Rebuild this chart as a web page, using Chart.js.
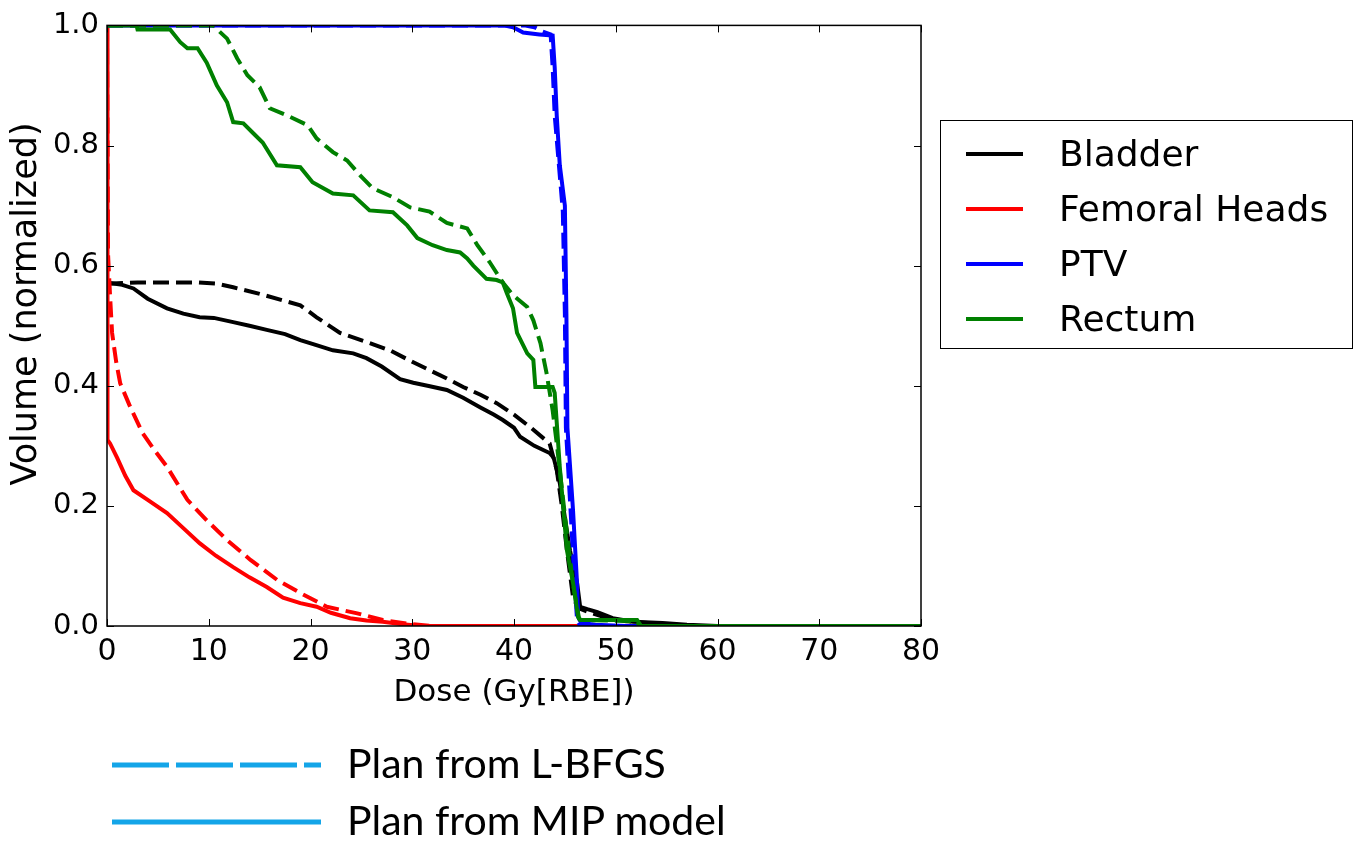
<!DOCTYPE html>
<html>
<head>
<meta charset="utf-8">
<script src="https://cdn.jsdelivr.net/npm/chart.js@4.4.0/dist/chart.umd.min.js"></script>
<style>
body{margin:0;background:#fff;}
#wrap{position:relative;width:1363px;height:842px;}
#dvh{position:absolute;left:0;top:0;}
#legend{position:absolute;left:940px;top:120px;width:411px;height:227px;border:1.5px solid #000;font-family:"DejaVu Sans";font-size:36px;}
.row{position:absolute;left:0;height:50px;}
.row .ln{position:absolute;left:25px;width:57px;height:4px;top:23px;}
.row .tx{position:absolute;left:118px;top:3px;line-height:44px;white-space:nowrap;}
#planLegend{position:absolute;left:0;top:735px;width:800px;height:110px;}
.plan{position:absolute;left:347px;font-family:Lato,"Open Sans";font-size:41px;line-height:46px;white-space:nowrap;color:#000;}
</style>
</head>
<body>
<div id="wrap">
<canvas id="dvh" width="1363" height="842"></canvas>
<div id="legend"></div>
<div id="planLegend">
<svg width="340" height="110" style="position:absolute;left:0;top:0">
<line x1="112" y1="30" x2="321" y2="30" stroke="#14a5e8" stroke-width="5" stroke-dasharray="57 7"/>
<line x1="112" y1="87" x2="321" y2="87" stroke="#14a5e8" stroke-width="5"/>
</svg>
<div class="plan" id="planA" style="top:5px"></div>
<div class="plan" id="planB" style="top:62px"></div>
</div>
</div>
<script>
/* ===== data ===== */

const structures=["Bladder","Femoral Heads","PTV","Rectum"];
const colors=["#000000","#ff0000","#0000ff","#008000"];
const planNames=["Plan from L-BFGS","Plan from MIP model"];
const xTitle="Dose (Gy[RBE])";
const yTitle="Volume (normalized)";

const xTicks=[0,10,20,30,40,50,60,70,80];
const yTicks=[0,0.2,0.4,0.6,0.8,1.0];

/* Bladder */
const bladderMipDose=[0,0.3,1.5,2.6,4,5.9,7.5,9.1,10.5,12.4,14,15.7,17.5,19,20.5,22.2,24.2,25.5,27,28.8,30.1,31.5,33.4,35,36.7,38,38.9,40,40.6,42,43.5,43.9,44.2,44.5,45,45.5,46.2,46.5,47.2,48.2,49.7,51.7,54.6,57,60,80];
const bladderMipVol=[0.570,0.571,0.568,0.562,0.545,0.529,0.520,0.514,0.513,0.506,0.500,0.493,0.486,0.476,0.468,0.459,0.454,0.446,0.432,0.411,0.405,0.400,0.393,0.380,0.364,0.352,0.343,0.330,0.315,0.300,0.288,0.280,0.260,0.238,0.180,0.126,0.072,0.032,0.028,0.023,0.013,0.007,0.005,0.002,0,0];
const bladderLbfgsDose=[0,3,6,9,10.8,12.4,15,17.3,19,20.6,22.9,25.5,27.8,30,31.7,33.4,35,36.7,38.3,40,41.6,43.5,44.2,44.7,45.2,45.8,46.3,47.5,49,51,54,58,80];
const bladderLbfgsVol=[0.570,0.572,0.572,0.572,0.570,0.564,0.553,0.542,0.534,0.514,0.488,0.473,0.459,0.440,0.426,0.412,0.398,0.385,0.371,0.352,0.331,0.304,0.260,0.200,0.126,0.048,0.030,0.022,0.014,0.008,0.004,0,0];

/* Femoral heads */
const femurMipDose=[0,0.05,0.3,1,1.8,2.6,4,5.9,7.5,9.1,10.7,12.4,14,15.7,17.3,19,20.6,22,23.9,25.5,27.1,29,31,80];
const femurMipVol=[1.0,0.31,0.304,0.28,0.25,0.226,0.21,0.188,0.163,0.138,0.117,0.098,0.081,0.065,0.047,0.038,0.032,0.022,0.013,0.009,0.007,0.003,0,0];
const femurLbfgsDose=[0,0.1,0.3,0.5,0.9,1.3,2.3,3.5,4.7,5.9,7.9,9.8,11.8,14.1,16.7,19,21.6,24.6,27.1,29.5,32,80];
const femurLbfgsVol=[1.0,0.62,0.55,0.488,0.44,0.404,0.364,0.321,0.292,0.265,0.21,0.176,0.143,0.110,0.077,0.055,0.032,0.021,0.010,0.004,0,0];

/* PTV */
const ptvMipDose=[0,39,39.9,40.9,42.5,43.8,44.0,44.2,44.5,45.0,45.15,45.25,45.8,46.2,46.3,46.6,48,51,80];
const ptvMipVol=[1,1,0.997,0.988,0.985,0.983,0.93,0.85,0.767,0.70,0.52,0.33,0.193,0.07,0.015,0.005,0.002,0,0];
const ptvLbfgsDose=[0,41,42,42.8,43.6,43.8,44.0,44.4,44.8,45.0,45.1,45.6,46.0,46.2,46.5,80];
const ptvLbfgsVol=[1,1,0.997,0.99,0.985,0.93,0.85,0.77,0.69,0.52,0.33,0.18,0.06,0.01,0,0];

/* Rectum */
const rectumMipDose=[0,2.9,3.0,6.2,7.2,7.9,8.9,9.8,10.8,11.8,12.4,13.4,14.4,15.3,16.7,19,20.2,22.2,24.2,25.8,28.1,29.5,30.5,32,33.4,34.7,35.4,36,37.3,38.3,38.9,39.3,39.9,40.3,41.3,41.9,42.1,43.8,44,44.5,45.2,45.8,46.3,46.5,52.1,52.5,80];
const rectumMipVol=[1,1,0.993,0.993,0.972,0.962,0.962,0.938,0.90,0.872,0.839,0.837,0.82,0.805,0.767,0.764,0.739,0.72,0.717,0.692,0.689,0.667,0.646,0.634,0.626,0.622,0.612,0.60,0.578,0.576,0.572,0.554,0.529,0.488,0.454,0.443,0.398,0.398,0.388,0.265,0.126,0.072,0.015,0.01,0.01,0,0];
const rectumLbfgsDose=[0,10.4,11.8,12.8,13.8,15,16,17.7,19.7,20.6,22.2,23.6,24.9,26.1,28.1,29.8,31.7,33.4,35.4,36.4,37.6,38.9,39.9,41.3,41.9,42.6,43.2,43.8,44.2,45.2,45.8,46.4,46.6,52,52.4,80];
const rectumLbfgsVol=[1,1,0.978,0.945,0.917,0.897,0.862,0.85,0.834,0.812,0.789,0.775,0.75,0.729,0.714,0.697,0.69,0.671,0.662,0.634,0.606,0.572,0.551,0.531,0.509,0.471,0.421,0.359,0.304,0.155,0.07,0.012,0.01,0.008,0,0];

/* ===== datasets ===== */

function pts(d,v){return d.map((x,i)=>({x:x,y:v[i]}));}

const curves=[
[0,bladderMipDose,bladderMipVol,false],
[0,bladderLbfgsDose,bladderLbfgsVol,true],
[1,femurMipDose,femurMipVol,false],
[1,femurLbfgsDose,femurLbfgsVol,true],
[2,ptvMipDose,ptvMipVol,false],
[2,ptvLbfgsDose,ptvLbfgsVol,true],
[3,rectumMipDose,rectumMipVol,false],
[3,rectumLbfgsDose,rectumLbfgsVol,true]
];

// later structures sit on top, like in the figure
const datasets=curves.map((c,i)=>({
label:structures[c[0]]+(c[3]?" L-BFGS":" MIP"),
data:pts(c[1],c[2]),
borderColor:colors[c[0]],
borderWidth:4,
borderDash:c[3]?[16,7]:[],
pointRadius:0,
tension:0,
fill:false,
order:curves.length-i
}));

/* frame, inward ticks, y title */
const framePlugin={
id:"frame",
afterDraw(chart){
const c=chart.ctx,a=chart.chartArea,sx=chart.scales.x,sy=chart.scales.y;
c.save();
c.strokeStyle="#000";
c.lineWidth=1.5;
c.strokeRect(a.left,a.top,a.right-a.left,a.bottom-a.top);
c.lineWidth=1;
c.beginPath();
xTicks.forEach(t=>{
const px=Math.round(sx.getPixelForValue(t))+0.5;
c.moveTo(px,a.bottom);c.lineTo(px,a.bottom-7);
c.moveTo(px,a.top);c.lineTo(px,a.top+7);
});
yTicks.forEach(t=>{
const py=Math.round(sy.getPixelForValue(t))+0.5;
c.moveTo(a.left,py);c.lineTo(a.left+7,py);
c.moveTo(a.right,py);c.lineTo(a.right-7,py);
});
c.stroke();
// y title sits a bit above the axis centre in the figure
c.translate(27,304);
c.rotate(-Math.PI/2);
c.fillStyle="#000";
c.font="35px 'DejaVu Sans'";
c.textAlign="center";
c.textBaseline="middle";
c.fillText(yTitle,0,0);
c.restore();
}
};

new Chart(document.getElementById("dvh"),{
type:"line",
data:{datasets:datasets},
options:{
responsive:false,
animation:false,
layout:{padding:{top:25,right:442,bottom:126,left:0}},
plugins:{legend:{display:false},tooltip:{enabled:false}},
scales:{
x:{
type:"linear",min:0,max:80,
afterBuildTicks:s=>{s.ticks=xTicks.map(v=>({value:v}));},
ticks:{color:"#000",padding:8,font:{family:"DejaVu Sans",size:30},maxRotation:0},
grid:{display:false,drawTicks:false},
border:{display:false},
title:{display:true,text:xTitle,color:"#000",font:{family:"DejaVu Sans",size:31},padding:{top:0,bottom:4}},
afterFit:s=>{s.height=90;}
},
y:{
type:"linear",min:0,max:1,
afterBuildTicks:s=>{s.ticks=yTicks.map(v=>({value:v}));},
ticks:{color:"#000",padding:8,font:{family:"DejaVu Sans",size:29},callback:v=>v.toFixed(1)},
grid:{display:false,drawTicks:false},
border:{display:false},
title:{display:false},
afterFit:s=>{s.width=107;}
}
}
},
plugins:[framePlugin]
});

/* legends */
const legend=document.getElementById("legend");
structures.forEach((name,i)=>{
legend.innerHTML+=`<div class="row" style="top:${8+i*55}px"><div class="ln" style="background:${colors[i]}"></div><div class="tx">${name}</div></div>`;
});
document.getElementById("planA").innerText=planNames[0];
document.getElementById("planB").innerText=planNames[1];
</script>
</body>
</html>
